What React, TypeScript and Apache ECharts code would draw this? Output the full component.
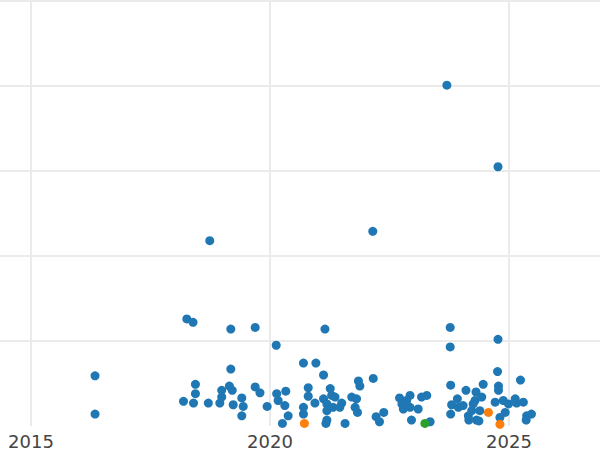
import React, { useEffect, useRef } from "react";
import * as echarts from "echarts";

const xTicks = [2010, 2015, 2020, 2025, 2030];
const shownXLabels = [2015, 2020, 2025];

// [decimal year, value]
const bluePoints: [number, number][] = [
  [2016.34, 0.59], [2016.34, 0.14], [2018.74, 2.18], [2018.26, 1.26], [2018.39, 1.22],
  [2019.18, 1.14], [2019.69, 1.16], [2019.18, 0.67], [2020.13, 0.95], [2021.15, 1.14],
  [2022.15, 2.29], [2023.70, 4.01], [2024.77, 3.05], [2023.77, 1.16], [2023.77, 0.93],
  [2024.77, 1.02],
  [2018.19, 0.29], [2018.40, 0.27], [2018.44, 0.49], [2018.44, 0.38], [2018.71, 0.27],
  [2018.95, 0.27], [2018.99, 0.34], [2018.99, 0.42], [2019.15, 0.47], [2019.21, 0.42],
  [2019.23, 0.25], [2019.41, 0.33], [2019.44, 0.23], [2019.41, 0.12], [2019.69, 0.46],
  [2019.79, 0.39], [2019.94, 0.23],
  [2020.14, 0.38], [2020.17, 0.30], [2020.33, 0.41], [2020.31, 0.24], [2020.38, 0.12],
  [2020.26, 0.03], [2020.70, 0.74], [2020.96, 0.74], [2021.12, 0.60], [2020.80, 0.45],
  [2020.80, 0.35], [2020.70, 0.22], [2020.70, 0.14], [2020.94, 0.27], [2021.12, 0.32],
  [2021.26, 0.44], [2021.29, 0.36], [2021.36, 0.34], [2021.19, 0.26], [2021.19, 0.18],
  [2021.19, 0.07], [2021.17, 0.03], [2021.32, 0.22], [2021.50, 0.27], [2021.46, 0.22],
  [2021.57, 0.03], [2021.71, 0.34], [2021.81, 0.32], [2021.78, 0.22], [2021.83, 0.16],
  [2021.85, 0.53], [2021.88, 0.47],
  [2022.16, 0.56], [2022.22, 0.11], [2022.29, 0.05], [2022.38, 0.16], [2022.71, 0.33],
  [2022.76, 0.26], [2022.93, 0.36], [2022.86, 0.30], [2022.79, 0.20], [2022.93, 0.22],
  [2023.10, 0.20], [2023.17, 0.34], [2023.28, 0.36], [2022.96, 0.07], [2023.35, 0.05],
  [2023.78, 0.48], [2023.80, 0.25], [2023.78, 0.14], [2023.92, 0.32], [2023.94, 0.22],
  [2024.10, 0.42], [2024.31, 0.40], [2024.46, 0.49], [2024.76, 0.64], [2024.78, 0.47],
  [2024.78, 0.42], [2025.24, 0.54], [2024.04, 0.24], [2024.25, 0.26], [2024.29, 0.30],
  [2024.43, 0.34], [2024.15, 0.12], [2024.32, 0.07], [2024.39, 0.18], [2024.71, 0.28],
  [2024.88, 0.30], [2024.99, 0.26], [2025.13, 0.32], [2025.16, 0.27], [2025.30, 0.28],
  [2024.92, 0.16], [2024.81, 0.10], [2025.37, 0.12], [2025.47, 0.14], [2025.36, 0.07],
  [2024.22, 0.18], [2024.16, 0.07], [2024.37, 0.06],
];

const orangePoints: [number, number][] = [
  [2020.72, 0.03], [2024.57, 0.16], [2024.81, 0.02],
];

const greenPoints: [number, number][] = [
  [2023.24, 0.03],
];

export default function App() {
  const ref = useRef<HTMLDivElement>(null);
  useEffect(() => {
    if (!ref.current) return;
    const chart = echarts.init(ref.current, undefined, { renderer: "svg" });
    const sz = 9;
    chart.setOption({
      animation: false,
      backgroundColor: "#ffffff",
      grid: {
        left: -208,
        right: -148,
        top: 1,
        bottom: 24,
        containLabel: false,
        outerBoundsMode: "none",
      },
      xAxis: {
        type: "value",
        min: xTicks[0],
        max: xTicks[xTicks.length - 1],
        interval: 5,
        axisLine: { show: false },
        axisTick: { show: false },
        axisLabel: {
          showMinLabel: false,
          showMaxLabel: false,
          formatter: (v: number) => (shownXLabels.includes(v) ? String(v) : ""),
          fontSize: 18,
          color: "#444444",
          fontFamily: "DejaVu Sans",
          margin: 6,
        },
        splitLine: { show: true, lineStyle: { color: "#ebebeb", width: 2 } },
      },
      yAxis: {
        type: "value",
        min: 0,
        max: 5,
        interval: 1,
        axisLine: { show: false },
        axisTick: { show: false },
        axisLabel: { show: false },
        splitLine: { show: true, showMinLine: false, lineStyle: { color: "#ebebeb", width: 2 } },
      },
      series: [
        {
          type: "scatter",
          data: bluePoints,
          symbolSize: sz,
          itemStyle: { color: "#1f77b4", opacity: 1 },
        },
        {
          type: "scatter",
          data: orangePoints,
          symbolSize: sz,
          itemStyle: { color: "#ff7f0e", opacity: 1 },
        },
        {
          type: "scatter",
          data: greenPoints,
          symbolSize: sz,
          itemStyle: { color: "#2ca02c", opacity: 1 },
        },
      ],
    });
    return () => chart.dispose();
  }, []);
  return (
    <div
      ref={ref}
      style={{ position: "fixed", left: 0, top: 0, width: 600, height: 450 }}
    />
  );
}
